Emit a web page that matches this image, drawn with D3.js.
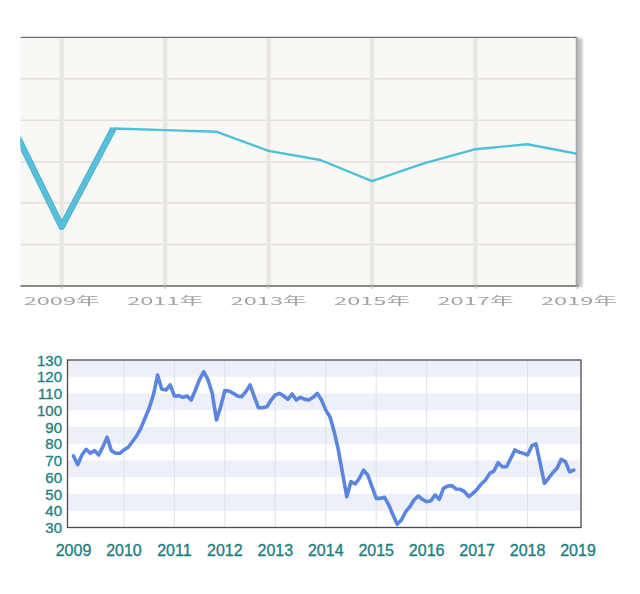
<!DOCTYPE html>
<html lang="zh">
<head>
  <meta charset="UTF-8">
  <title>Price index 2009-2019</title>
  <script src="https://d3js.org/d3.v7.min.js"></script>
  <style>
    body {
      margin: 0;
      background: #ffffff;
    }
    svg {
      display: block;
    }
    .top-label {
      font-family: 'Noto Sans CJK SC', 'DejaVu Sans', sans-serif;
      font-size: 11px;
      fill: #a3a3a3;
    }
    .bot-label {
      font-family: 'Liberation Sans', Arial, sans-serif;
      fill: #1f7f80;
      stroke: #1f7f80;
      stroke-width: 0.35px;
    }
  </style>
</head>
<body>
  <svg width="640" height="594"></svg>

  <script>
    // ---- top chart: yearly series (no y labels in the picture) ----
    const topYears = [2008, 2009, 2010, 2011, 2012, 2013, 2014, 2015, 2016, 2017, 2018, 2019];
    const topValues = [39.7, 14.3, 38.0, 37.6, 37.2, 32.6, 30.4, 25.3, 29.6, 33.0, 34.2, 31.8];
    const topThickYears = [2008, 2009, 2010];
    const topThickValues = [39.7, 14.3, 38.0];
    const topTickYears = [2009, 2011, 2013, 2015, 2017, 2019];
    const topTickLabels = ["2009年", "2011年", "2013年", "2015年", "2017年", "2019年"];
    const topGridValues = [10, 20, 30, 40, 50];

    // ---- bottom chart: monthly series from Jan 2009 ----
    const botStartYear = 2009;
    const botValues = [
      72.7, 67.5, 73.3, 76.7, 74.3, 75.9, 73.3, 78.3, 83.9, 75.9, 74.3, 74.3,
      76.3, 77.9, 81.2, 84.6, 89.2, 95.2, 101.2, 109.1, 121.0, 112.5, 112.1, 115.1,
      108.5, 108.7, 107.7, 108.5, 106.1, 112.1, 118.5, 123.0, 118.1, 110.1, 94.2, 102.1,
      111.7, 111.5, 110.1, 108.5, 108.1, 111.1, 115.1, 108.1, 101.5, 101.5, 102.1, 106.1,
      109.1, 110.1, 108.5, 106.5, 109.7, 106.1, 107.7, 106.5, 106.1, 107.7, 110.1, 106.1,
      100.1, 96.1, 87.2, 76.3, 62.3, 48.4, 57.4, 56.0, 59.4, 64.3, 61.3, 54.4,
      47.4, 47.4, 48.0, 43.4, 37.5, 31.9, 34.5, 39.4, 42.4, 46.4, 48.8, 46.8,
      45.4, 46.0, 49.4, 46.8, 53.4, 54.8, 55.0, 53.0, 52.8, 51.4, 48.4, 50.4,
      52.8, 56.0, 58.4, 62.3, 63.7, 68.7, 66.3, 66.3, 71.3, 76.3, 74.9, 74.3,
      73.3, 78.7, 79.9, 68.3, 56.4, 59.4, 62.7, 65.3, 70.7, 69.3, 63.3, 64.3
    ];
    const botYTicks = [30, 40, 50, 60, 70, 80, 90, 100, 110, 120, 130];
    const botXTicks = [2009, 2010, 2011, 2012, 2013, 2014, 2015, 2016, 2017, 2018, 2019];
    const botBands = [[120, 130], [100, 110], [80, 90], [60, 70], [40, 50]];

    const svg = d3.select("svg");
    const defs = svg.append("defs");

    defs.append("filter").attr("id", "soft")
      .append("feGaussianBlur").attr("stdDeviation", 0.45);
    defs.append("filter").attr("id", "shadow")
      .attr("x", "-200%").attr("width", "500%")
      .append("feGaussianBlur").attr("stdDeviation", 1.6);

    // ================= TOP CHART =================
    const topBox = {left: 20.5, right: 577, top: 37.3, bottom: 286};
    const xTop = d3.scaleLinear().domain([2009, 2019]).range([61.7, 579]);
    const yTop = d3.scaleLinear().domain([0, 60]).range([topBox.bottom, topBox.top]);

    defs.append("clipPath").attr("id", "topClip")
      .append("rect")
        .attr("x", topBox.left).attr("y", topBox.top - 5)
        .attr("width", topBox.right - topBox.left).attr("height", topBox.bottom - topBox.top + 10);

    const topG = svg.append("g");

    topG.append("rect")
      .attr("x", topBox.left).attr("y", topBox.top)
      .attr("width", topBox.right - topBox.left).attr("height", topBox.bottom - topBox.top)
      .attr("fill", "#faf8f5");

    topG.selectAll(".hgrid")
      .data(topGridValues)
      .enter().append("line")
        .attr("class", "hgrid")
        .attr("x1", topBox.left).attr("x2", topBox.right)
        .attr("y1", d => yTop(d)).attr("y2", d => yTop(d))
        .attr("stroke", "#e2dfdc")
        .attr("stroke-width", 1.5);

    topG.selectAll(".vgrid")
      .data(topTickYears.filter(d => xTop(d) < topBox.right - 5))
      .enter().append("line")
        .attr("class", "vgrid")
        .attr("x1", d => xTop(d)).attr("x2", d => xTop(d))
        .attr("y1", topBox.top + 1).attr("y2", topBox.bottom)
        .attr("stroke", "#e9e7e4")
        .attr("stroke-width", 4.5);

    // top border
    topG.append("line")
      .attr("x1", topBox.left).attr("x2", topBox.right)
      .attr("y1", topBox.top).attr("y2", topBox.top)
      .attr("stroke", "#6f6f6f").attr("stroke-width", 1.2);

    // right border with shadow
    topG.append("rect")
      .attr("x", topBox.right + 1).attr("y", topBox.top + 1)
      .attr("width", 4).attr("height", topBox.bottom - topBox.top)
      .attr("fill", "#b5b5b5")
      .attr("filter", "url(#shadow)");
    topG.append("line")
      .attr("x1", topBox.right).attr("x2", topBox.right)
      .attr("y1", topBox.top).attr("y2", topBox.bottom)
      .attr("stroke", "#a9a9a9").attr("stroke-width", 2.5);

    // bottom axis
    topG.append("line")
      .attr("x1", topBox.left).attr("x2", topBox.right + 2)
      .attr("y1", topBox.bottom).attr("y2", topBox.bottom)
      .attr("stroke", "#8a8a8a").attr("stroke-width", 2);

    topG.selectAll(".ttick")
      .data(topTickYears)
      .enter().append("line")
        .attr("class", "ttick")
        .attr("x1", d => Math.min(xTop(d), topBox.right)).attr("x2", d => Math.min(xTop(d), topBox.right))
        .attr("y1", topBox.bottom).attr("y2", topBox.bottom + 3)
        .attr("stroke", "#c8c8c8").attr("stroke-width", 1.5);

    topG.selectAll(".top-label")
      .data(topTickYears)
      .enter().append("text")
        .attr("class", "top-label")
        .attr("x", d => xTop(d) - 38)
        .attr("y", 305)
        .attr("textLength", 76)
        .attr("lengthAdjust", "spacingAndGlyphs")
        .attr("filter", "url(#soft)")
        .text((d, i) => topTickLabels[i]);

    const topLine = d3.line()
      .x(d => xTop(d[0]))
      .y(d => yTop(d[1]));

    const lineG = topG.append("g").attr("clip-path", "url(#topClip)");

    lineG.append("path")
      .datum(topThickYears.map((y, i) => [y, topThickValues[i]]))
      .attr("fill", "none")
      .attr("stroke", "#4fb4d3")
      .attr("stroke-width", 6.5)
      .attr("stroke-linejoin", "round")
      .attr("d", topLine);

    lineG.append("path")
      .datum(topThickYears.map((y, i) => [y, topThickValues[i]]))
      .attr("fill", "none")
      .attr("stroke", "#7ccfe6")
      .attr("stroke-width", 3)
      .attr("stroke-linejoin", "round")
      .attr("d", topLine);

    lineG.append("path")
      .datum(topYears.map((y, i) => [y, topValues[i]]))
      .attr("fill", "none")
      .attr("stroke", "#4ec0d8")
      .attr("stroke-width", 2.4)
      .attr("stroke-linejoin", "round")
      .attr("d", topLine);

    // ================= BOTTOM CHART =================
    const botBox = {left: 67.5, right: 581, top: 360, bottom: 527.5};
    const xBot = d3.scaleLinear().domain([2009, 2019]).range([73.5, 578]);
    const yBot = d3.scaleLinear().domain([30, 130]).range([botBox.bottom, botBox.top]);

    const botG = svg.append("g");

    botG.append("rect")
      .attr("x", botBox.left).attr("y", botBox.top)
      .attr("width", botBox.right - botBox.left).attr("height", botBox.bottom - botBox.top)
      .attr("fill", "#ffffff");

    botG.selectAll(".band")
      .data(botBands)
      .enter().append("rect")
        .attr("class", "band")
        .attr("x", botBox.left)
        .attr("y", d => yBot(d[1]))
        .attr("width", botBox.right - botBox.left)
        .attr("height", d => yBot(d[0]) - yBot(d[1]))
        .attr("fill", "#eef0f9");

    botG.selectAll(".bvgrid")
      .data(botXTicks.slice(1, -1))
      .enter().append("line")
        .attr("class", "bvgrid")
        .attr("x1", d => xBot(d)).attr("x2", d => xBot(d))
        .attr("y1", botBox.top).attr("y2", botBox.bottom)
        .attr("stroke", "#dfe2ea")
        .attr("stroke-width", 1);

    const botLine = d3.line()
      .x((d, i) => xBot(botStartYear + i / 12))
      .y(d => yBot(d));

    botG.append("path")
      .datum(botValues)
      .attr("fill", "none")
      .attr("stroke", "#5b86df")
      .attr("stroke-width", 3.6)
      .attr("stroke-linejoin", "round")
      .attr("stroke-linecap", "round")
      .attr("d", botLine);

    botG.append("rect")
      .attr("x", botBox.left).attr("y", botBox.top)
      .attr("width", botBox.right - botBox.left).attr("height", botBox.bottom - botBox.top)
      .attr("fill", "none")
      .attr("stroke", "#4a4a4a")
      .attr("stroke-width", 1.3);

    botG.selectAll(".ylab")
      .data(botYTicks)
      .enter().append("text")
        .attr("class", "bot-label ylab")
        .attr("x", 62)
        .attr("y", d => yBot(d) + 5.5)
        .attr("text-anchor", "end")
        .style("font-size", "15px")
        .text(d => d);

    botG.selectAll(".xlab")
      .data(botXTicks)
      .enter().append("text")
        .attr("class", "bot-label xlab")
        .attr("x", d => xBot(d))
        .attr("y", 556)
        .attr("text-anchor", "middle")
        .style("font-size", "16px")
        .text(d => d);
  </script>
</body>
</html>
